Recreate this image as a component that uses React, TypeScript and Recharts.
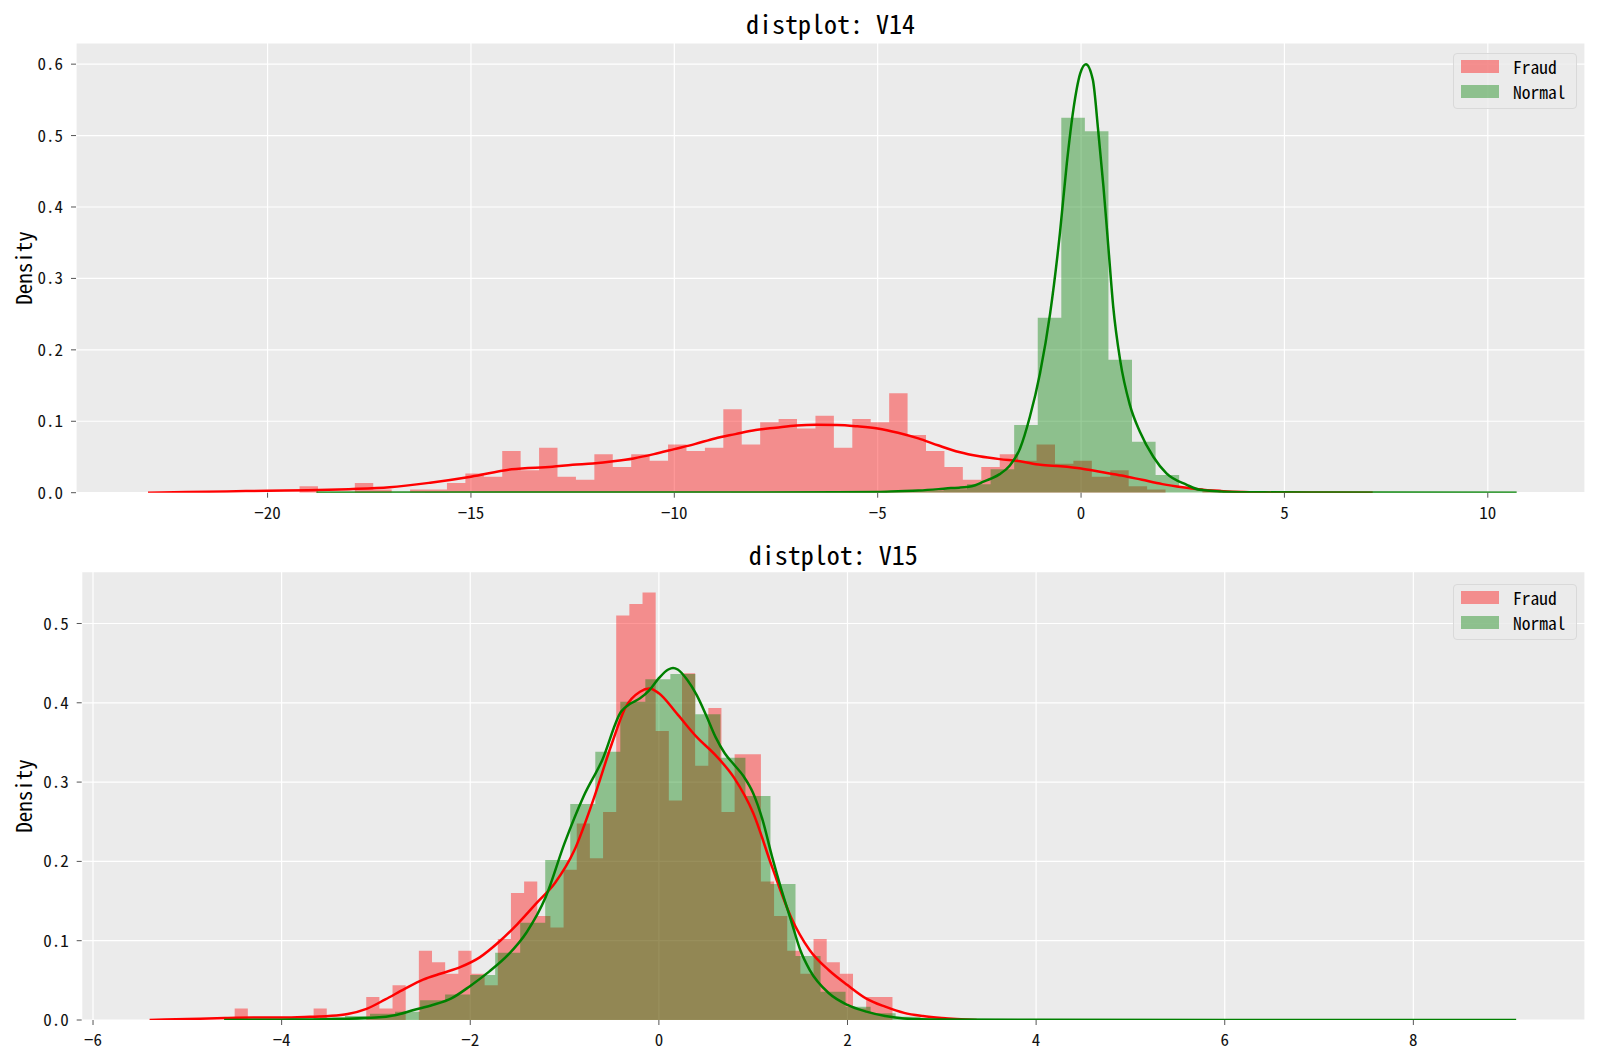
import { ComposedChart, Area, Line, XAxis, YAxis, CartesianGrid } from 'recharts';

const FONT = "'Noto Sans Mono CJK SC', 'DejaVu Sans Mono', monospace";
const PLOT_BG = '#EBEBEB';

// ---- V14 ----
const v14FraudStart = -19.214;
const v14FraudWidth = 0.453;
const v14FraudDensity = [
  0.009, 0, 0, 0.0135, 0.0045, 0, 0.0045, 0.0045, 0.0135, 0.027,
  0.0225, 0.0584, 0.0314, 0.0629, 0.0225, 0.018, 0.0539, 0.0359, 0.0539, 0.0449,
  0.0674, 0.0584, 0.0629, 0.1168, 0.0674, 0.0988, 0.1033, 0.0898, 0.1078, 0.0629,
  0.1033, 0.0988, 0.1392, 0.0808, 0.0584, 0.0359, 0.018, 0.0359, 0.0539, 0.0449,
  0.0674, 0.0404, 0.0449, 0.0225, 0.0314, 0.009, 0.0045, 0, 0, 0.0045,
];
const v14NormalStart = -18.45;
const v14NormalWidth = 0.5795;
const v14NormalDensity = [
  0.0002, 0.0001, 0.0001, 0.0001, 0.0002, 0.0001, 0.0002, 0.0002, 0.0002, 0.0002,
  0.0003, 0.0003, 0.0003, 0.0003, 0.0004, 0.0004, 0.0004, 0.0005, 0.0005, 0.0006,
  0.0007, 0.0008, 0.001, 0.0012, 0.0018, 0.0028, 0.005, 0.012, 0.033, 0.0948,
  0.245, 0.525, 0.506, 0.186, 0.0714, 0.0248, 0.0065, 0.0022, 0.001, 0.0006,
  0.0004, 0.0003, 0.0002, 0.0002, 0.0001, 0.0001, 0.0001, 0.0001, 0.0001, 0.0001,
];
const v14FraudKde = [
  [-22.94, 0], [-22, 0.001], [-21, 0.0018], [-20, 0.0028], [-19, 0.0035], [-18, 0.005],
  [-17, 0.0075], [-16, 0.014], [-15, 0.0224], [-14, 0.0327], [-13, 0.0364], [-12.5, 0.039],
  [-12, 0.041], [-11.5, 0.044], [-11, 0.048], [-10.5, 0.054], [-10, 0.061], [-9.5, 0.068],
  [-9, 0.076], [-8.5, 0.082], [-8, 0.0878], [-7.5, 0.091], [-7, 0.094], [-6.5, 0.095],
  [-6, 0.0948], [-5.5, 0.093], [-5, 0.09], [-4.5, 0.084], [-4, 0.076], [-3.5, 0.066],
  [-3, 0.057], [-2.5, 0.051], [-2, 0.047], [-1.5, 0.044], [-1, 0.039], [-0.5, 0.037],
  [0, 0.034], [0.5, 0.029], [1, 0.024], [1.5, 0.018], [2, 0.012], [2.5, 0.0075],
  [3, 0.004], [3.5, 0.002], [4, 0.001], [5, 0.0003], [7.17, 0],
];
const v14NormalKde = [
  [-18.8, 0], [-10, 0.0002], [-6, 0.0005], [-5, 0.001], [-4.5, 0.002], [-4, 0.003],
  [-3.5, 0.005], [-3.2, 0.0065], [-3, 0.007], [-2.8, 0.008], [-2.6, 0.0105], [-2.4, 0.0154],
  [-2.2, 0.02], [-2, 0.026], [-1.75, 0.038], [-1.5, 0.062], [-1.26, 0.106], [-1.01, 0.167],
  [-0.76, 0.251], [-0.52, 0.363], [-0.35, 0.461], [-0.19, 0.536], [-0.02, 0.587], [0.12, 0.6],
  [0.29, 0.578], [0.42, 0.508], [0.55, 0.429], [0.67, 0.345], [0.79, 0.261], [0.96, 0.186],
  [1.2, 0.123], [1.45, 0.085], [1.78, 0.05], [2.1, 0.027], [2.6, 0.011], [2.92, 0.004],
  [3.5, 0.0015], [4.5, 0.0005], [6, 0.0002], [10.71, 0],
];
const v14XTicks = [-20, -15, -10, -5, 0, 5, 10];
const v14YTicks = [0, 0.1, 0.2, 0.3, 0.4, 0.5, 0.6];

// ---- V15 ----
const v15FraudStart = -4.498;
const v15FraudWidth = 0.1395;
const v15FraudDensity = [
  0.0146, 0, 0, 0, 0, 0, 0.0146, 0, 0, 0,
  0.0291, 0.0146, 0.0437, 0, 0.0874, 0.0729, 0.0583, 0.0874, 0.0583, 0.0437,
  0.102, 0.1603, 0.1748, 0.1311, 0.1166, 0.1894, 0.2477, 0.204, 0.2623, 0.51,
  0.5245, 0.5391, 0.3643, 0.2768, 0.4371, 0.3205, 0.3934, 0.2623, 0.3351, 0.3351,
  0.1748, 0.1311, 0.0874, 0.0583, 0.102, 0.0729, 0.0583, 0.0146, 0.0291, 0.0291,
];
const v15NormalStart = -4.39;
const v15NormalWidth = 0.2654;
const v15NormalDensity = [
  0.0005, 0.001, 0.0015, 0.003, 0.005, 0.008, 0.0105, 0.025, 0.032, 0.0567,
  0.0849, 0.1227, 0.2018, 0.2724, 0.3384, 0.4014, 0.4296, 0.4363, 0.3855, 0.3308,
  0.2825, 0.1715, 0.0807, 0.0357, 0.0168, 0.0084, 0.004, 0.002, 0.0012, 0.0008,
  0.0006, 0.0005, 0.0004, 0.0004, 0.0003, 0.0003, 0.0003, 0.0003, 0.0002, 0.0002,
  0.0002, 0.0002, 0.0002, 0.0002, 0.0002, 0.0002, 0.0002, 0.0002, 0.0002, 0.0003,
];
const v15FraudKde = [
  [-5.4, 0], [-5, 0.0012], [-4.6, 0.0025], [-4.3, 0.003], [-4, 0.003], [-3.7, 0.004],
  [-3.5, 0.005], [-3.3, 0.0075], [-3.1, 0.014], [-2.9, 0.026], [-2.7, 0.039], [-2.5, 0.051],
  [-2.3, 0.059], [-2.1, 0.067], [-1.9, 0.079], [-1.7, 0.098], [-1.5, 0.121], [-1.3, 0.147],
  [-1.1, 0.173], [-0.9, 0.213], [-0.7, 0.276], [-0.5, 0.348], [-0.35, 0.395], [-0.2, 0.414],
  [-0.1, 0.418], [0, 0.412], [0.2, 0.385], [0.4, 0.357], [0.6, 0.334], [0.8, 0.305],
  [1, 0.261], [1.2, 0.193], [1.4, 0.13], [1.6, 0.088], [1.8, 0.063], [2, 0.044],
  [2.2, 0.027], [2.4, 0.0168], [2.6, 0.009], [2.8, 0.005], [3, 0.0025], [3.37, 0],
];
const v15NormalKde = [
  [-4.61, 0], [-4, 0.0004], [-3.5, 0.001], [-3, 0.003], [-2.8, 0.006], [-2.6, 0.0126],
  [-2.4, 0.019], [-2.2, 0.0273], [-2, 0.043], [-1.8, 0.061], [-1.6, 0.082], [-1.4, 0.111],
  [-1.2, 0.155], [-1, 0.223], [-0.8, 0.2816], [-0.6, 0.328], [-0.4, 0.389], [-0.3, 0.399],
  [-0.2, 0.4056], [-0.1, 0.416], [0, 0.431], [0.1, 0.442], [0.15, 0.444], [0.2, 0.442],
  [0.3, 0.429], [0.4, 0.41], [0.5, 0.3846], [0.6, 0.357], [0.7, 0.336], [0.8, 0.3216],
  [0.9, 0.307], [1, 0.286], [1.1, 0.252], [1.2, 0.206], [1.3, 0.164], [1.4, 0.126],
  [1.5, 0.088], [1.6, 0.063], [1.8, 0.034], [2, 0.019], [2.2, 0.0105], [2.4, 0.005],
  [2.6, 0.002], [3, 0.0007], [4, 0.0002], [6, 0.0001], [9.09, 0],
];
const v15XTicks = [-6, -4, -2, 0, 2, 4, 6, 8];
const v15YTicks = [0, 0.1, 0.2, 0.3, 0.4, 0.5];

const legendItems = [
  { name: 'Fraud', color: 'rgba(255,0,0,0.4)' },
  { name: 'Normal', color: 'rgba(0,128,0,0.4)' },
];

type Pt = { x: number; y: number };

// bin left edges + closing right edge, for a stepAfter area
function histPoints(start: number, width: number, values: number[]): Pt[] {
  const pts = values.map((y, i) => ({ x: start + i * width, y }));
  pts.push({ x: start + values.length * width, y: values[values.length - 1] });
  return pts;
}
const toPts = (pairs: number[][]): Pt[] => pairs.map(([x, y]) => ({ x, y }));

const fmtX = (v: number) => (v < 0 ? `\u2212${-v}` : `${v}`);
const fmtY = (v: number) => v.toFixed(1);

const Y_W = 60;
const X_H = 30;

interface PanelProps {
  title: string;
  top: number;
  height: number;
  plotLeft: number;
  plotTop: number;
  plotBottom: number;
  legendTop: number;
  xDomain: [number, number];
  xTicks: number[];
  yDomain: [number, number];
  yTicks: number[];
  fraudHist: Pt[];
  normalHist: Pt[];
  fraudKde: Pt[];
  normalKde: Pt[];
}

function Panel(p: PanelProps) {
  const plotRight = 1585;
  const midX = (p.plotLeft + plotRight) / 2;
  return (
    <div style={{ position: 'absolute', left: 0, top: p.top, width: 1600, height: p.height }}>
      <ComposedChart
        width={1600}
        height={p.height}
        margin={{ top: p.plotTop, right: 1600 - plotRight, left: p.plotLeft - Y_W, bottom: p.height - p.plotBottom - X_H }}
      >
        <CartesianGrid fill={PLOT_BG} fillOpacity={1} stroke="#ffffff" strokeWidth={1.2} />
        <XAxis
          type="number"
          dataKey="x"
          domain={p.xDomain}
          ticks={p.xTicks}
          allowDataOverflow
          height={X_H}
          axisLine={false}
          tickLine={{ stroke: '#555555' }}
          tickSize={5}
          tickMargin={9}
          tickFormatter={fmtX}
          tick={{ fill: '#111111', fontSize: 17, fontFamily: FONT }}
        />
        <YAxis
          type="number"
          domain={p.yDomain}
          ticks={p.yTicks}
          allowDataOverflow
          width={Y_W}
          axisLine={false}
          tickLine={{ stroke: '#555555' }}
          tickSize={5}
          tickMargin={8}
          tickFormatter={fmtY}
          tick={{ fill: '#111111', fontSize: 17, fontFamily: FONT }}
        />
        <Area data={p.fraudHist} dataKey="y" type="stepAfter" baseValue={0} fill="#ff0000" fillOpacity={0.4} stroke="none" isAnimationActive={false} />
        <Area data={p.normalHist} dataKey="y" type="stepAfter" baseValue={0} fill="#008000" fillOpacity={0.4} stroke="none" isAnimationActive={false} />
        <Line data={p.fraudKde} dataKey="y" type="monotone" stroke="#ff0000" strokeWidth={2.5} dot={false} isAnimationActive={false} />
        <Line data={p.normalKde} dataKey="y" type="monotone" stroke="#008000" strokeWidth={2.5} dot={false} isAnimationActive={false} />
      </ComposedChart>

      <div
        style={{
          position: 'absolute', left: midX, top: p.plotTop / 2, transform: 'translate(-50%, -50%)',
          fontFamily: FONT, fontSize: 26, color: '#000', whiteSpace: 'nowrap',
        }}
      >
        {p.title}
      </div>
      <div
        style={{
          position: 'absolute', left: 22.5, top: (p.plotTop + p.plotBottom) / 2,
          transform: 'translate(-50%, -50%) rotate(-90deg)', fontFamily: FONT, fontSize: 21, color: '#000', whiteSpace: 'nowrap',
        }}
      >
        Density
      </div>
      <div
        style={{
          position: 'absolute', left: 1453, top: p.legendTop, width: 124, height: 56, boxSizing: 'border-box',
          background: 'rgba(235,235,235,0.8)', border: '1px solid #d9d9d9', borderRadius: 4,
          fontFamily: FONT, fontSize: 17.5, color: '#000',
        }}
      >
        {legendItems.map((it, i) => (
          <div key={it.name} style={{ position: 'absolute', left: 7, top: 6 + i * 25, height: 14, display: 'flex', alignItems: 'center' }}>
            <span style={{ display: 'inline-block', width: 38, height: 13, background: it.color }} />
            <span style={{ marginLeft: 14, lineHeight: '14px' }}>{it.name}</span>
          </div>
        ))}
      </div>
    </div>
  );
}

export default function App() {
  return (
    <div style={{ position: 'absolute', left: 0, top: 0, width: 1600, height: 1063, background: '#ffffff' }}>
      <Panel
        title="distplot: V14"
        top={0}
        height={535}
        plotLeft={76}
        plotTop={43}
        plotBottom={492.7}
        legendTop={52.7}
        xDomain={[-24.71, 12.39]}
        xTicks={v14XTicks}
        yDomain={[0, 0.6296]}
        yTicks={v14YTicks}
        fraudHist={histPoints(v14FraudStart, v14FraudWidth, v14FraudDensity)}
        normalHist={histPoints(v14NormalStart, v14NormalWidth, v14NormalDensity)}
        fraudKde={toPts(v14FraudKde)}
        normalKde={toPts(v14NormalKde)}
      />
      <Panel
        title="distplot: V15"
        top={535}
        height={528}
        plotLeft={81.7}
        plotTop={36.7}
        plotBottom={485}
        legendTop={48.6}
        xDomain={[-6.12, 9.82]}
        xTicks={v15XTicks}
        yDomain={[0, 0.5653]}
        yTicks={v15YTicks}
        fraudHist={histPoints(v15FraudStart, v15FraudWidth, v15FraudDensity)}
        normalHist={histPoints(v15NormalStart, v15NormalWidth, v15NormalDensity)}
        fraudKde={toPts(v15FraudKde)}
        normalKde={toPts(v15NormalKde)}
      />
    </div>
  );
}
